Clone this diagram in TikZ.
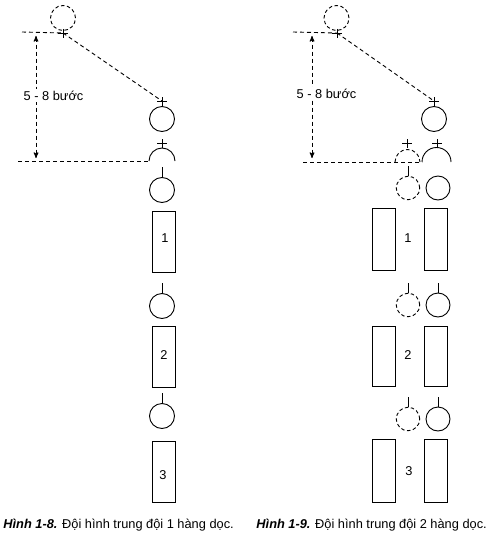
\documentclass[tikz,border=0pt]{standalone}
\usepackage{fontspec}
\setmainfont{Liberation Sans}
\usetikzlibrary{arrows}

\begin{document}
\begin{tikzpicture}[
      x=1pt, y=-1pt,
      line width=0.9pt,
      >=stealth',
      soldier/.style={circle,draw,minimum size=25pt,inner sep=0pt},
      ghost/.style={soldier,dash pattern=on 3.5pt off 2.5pt},
      squad/.style={draw,minimum width=23pt,minimum height=61pt,inner sep=0pt},
      guide/.style={dash pattern=on 4pt off 3pt},
      dist/.style={<->,guide},
      txt/.style={font=\fontsize{12.8}{15}\selectfont,inner sep=0pt,anchor=base},
      ]
      \useasboundingbox (0,0) rectangle (489,535);
      % left: 1 column
      \node [ghost] (L-top) at (63,18) {};
      \coordinate (L-from) at (63,33);
      \node [soldier] (L-lead) at (162,119) {};
      \coordinate (L-to) at (162,101);
      \coordinate (L-foot) at (149,161);
      \coordinate (L-cap) at (162,143);
      \coordinate (L-end) at (22,32);
      \coordinate (L-base) at (18,161);
      \coordinate (L-up) at (36,36);
      \coordinate (L-down) at (36,158);
      % marks
      \foreach \p in {L-from,L-to,L-cap} {
          \draw (\p) ++(-5,0) -- ++(10,0) (\p) ++(0,-4) -- ++(0,9);
      }
      \draw (L-foot) arc [start angle=180, end angle=360, radius=13];
      % guides
      \draw [guide] (L-end) -- (L-from);
      \draw [guide] (L-from) -- (L-to);
      \draw [guide] (L-base) -- (L-foot);
      \draw [dist,line width=1pt] (L-up) -- (L-down);
      \node [txt,fill=white,inner ysep=2pt] (L-dist) at (53.5,100) {5 - 8 bước};
      % squads
      \foreach \i/\y/\r in {1/190/241.5,2/306/356.5,3/416/472} {
          \node [soldier] (L-s\i) at (162,\y) {};
          \draw (L-s\i.north) -- ++(0,-10);
          \node [squad] (L-sq\i) at (163.5,\r) {};
      }
      \node [txt] (L-n1) at (165,242) {1};
      \node [txt] (L-n2) at (164,359) {2};
      \node [txt] (L-n3) at (163,479) {3};
      % right: 2 columns
      \node [ghost] (R-top) at (336.5,18) {};
      \coordinate (R-from) at (337,33);
      \node [soldier] (R-lead) at (434,119) {};
      \coordinate (R-to) at (434,101);
      \coordinate (R-gfoot) at (395,162);
      \coordinate (R-foot) at (422,162);
      \coordinate (R-gcap) at (407,143);
      \coordinate (R-cap) at (437,143);
      \coordinate (R-end) at (293,32);
      \coordinate (R-base) at (303,162);
      \coordinate (R-up) at (312,36);
      \coordinate (R-down) at (312,158);
      % marks
      \foreach \p in {R-from,R-to,R-gcap,R-cap} {
          \draw (\p) ++(-5,0) -- ++(10,0) (\p) ++(0,-4) -- ++(0,9);
      }
      \draw [ghost] (R-gfoot) arc [start angle=180, end angle=360, radius=12.5];
      \draw (R-foot) arc [start angle=180, end angle=360, radius=14.5];
      % guides
      \draw [guide] (R-end) -- (R-from);
      \draw [guide] (R-from) -- (R-to);
      \draw [guide] (R-base) -- (R-foot);
      \draw [dist,line width=1pt] (R-up) -- (R-down);
      \node [txt,fill=white,inner ysep=2pt] (R-dist) at (326.5,98) {5 - 8 bước};
      % squads
      \foreach \i/\y/\r/\h in {1/188/239/62,2/305/356/60,3/419/470.5/63} {
          \node [ghost,minimum size=23.5pt] (R-g\i) at (408,\y) {};
          \node [soldier,minimum size=24pt] (R-s\i) at (438,\y) {};
          \draw (R-g\i.north) -- ++(0,-10);
          \node [squad,minimum height=\h] (R-sqa\i) at (383.5,\r) {};
          \node [squad,minimum height=\h] (R-sqb\i) at (435.5,\r) {};
      }
      \draw (R-s2.north) -- ++(0,-10);
      \draw (R-s3.north) -- ++(0,-10);
      \node [txt] (R-n1) at (408,242) {1};
      \node [txt] (R-n2) at (408,359) {2};
      \node [txt] (R-n3) at (409,475) {3};
      % captions
      \node [txt,anchor=base west] (L-cap) at (3,528)
          {\textbf{\textit{Hình 1-8.}} Đội hình trung đội 1 hàng dọc.};
      \node [txt,anchor=base west] (R-cap) at (256,528)
          {\textbf{\textit{Hình 1-9.}} Đội hình trung đội 2 hàng dọc.};
    \end{tikzpicture}
\end{document}
